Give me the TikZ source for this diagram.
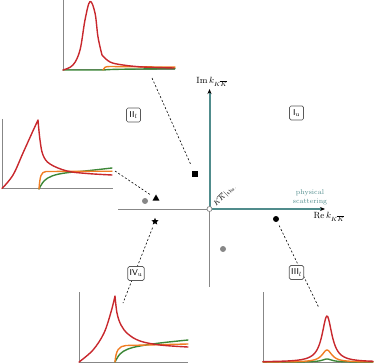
\documentclass[tikz,border=0pt]{standalone}
\usetikzlibrary{arrows.meta,shapes.geometric}
\definecolor{cred}{RGB}{200,40,45}
\definecolor{corange}{RGB}{240,125,35}
\definecolor{cgreen}{RGB}{60,135,55}
\definecolor{tealc}{RGB}{80,140,140}
\definecolor{axgrey}{RGB}{135,135,135}
\begin{document}
\begin{tikzpicture}[x=1pt,y=-1pt,
  pax/.style={draw=axgrey,line width=1pt},
  crv/.style={line width=1.4pt,line join=round,line cap=round},
  conn/.style={draw=black,line width=0.6pt,dash pattern=on 2pt off 2pt},
  regbox/.style={draw=black!65,fill=white,rounded corners=1.5pt,line width=0.7pt,
    font=\fontsize{8.5}{9}\sffamily,inner sep=1.8pt,minimum height=14pt,minimum width=14pt},
  sym/.style={fill=black,inner sep=0pt},
  tip/.style={-{Stealth[length=5pt,width=4pt,color=black]}}
]
\useasboundingbox (0,0) rectangle (374,363);

% ---------- main axes ----------
\coordinate (O) at (209.5,209);
\coordinate (xl) at (118,209);
\coordinate (yb) at (209.5,287);
\coordinate (xr) at (325,209);
\coordinate (yt) at (209.5,89);
\draw[axgrey,line width=1pt] (xl) -- (O) -- (yb);
\draw[tealc,line width=2pt,tip] (O) -- (xr);
\draw[tealc,line width=2pt,tip] (O) -- (yt);
\node[circle,draw=axgrey,fill=white,line width=0.7pt,inner sep=0pt,minimum size=5pt] (origin) at (O) {};

\node (imlab) at (212,82) {\fontsize{9}{10}\selectfont $\mathrm{Im}\,k_{K\overline{K}}$};
\node (relab) at (329,217) {\fontsize{9}{10}\selectfont $\mathrm{Re}\,k_{K\overline{K}}$};
\node[text=tealc,align=center,font=\fontsize{7}{9}\selectfont,inner sep=0pt] (phys) at (310,197) {physical\\scattering};
\node[rotate=45,font=\fontsize{7.5}{8}\selectfont,inner sep=0pt] (thr) at (224.5,195) {$K\overline{K}|_{\mathrm{thr.}}$};

% ---------- poles ----------
\node[sym,rectangle,minimum size=5.5pt] (sq) at (195,174) {};
\node[circle,fill=axgrey,inner sep=0pt,minimum size=6pt] (g1) at (145,201) {};
\node[sym,regular polygon,regular polygon sides=3,minimum size=8pt] (tri) at (156,198.5) {};
\node[sym,star,star points=5,star point ratio=2.2,minimum size=7.5pt] (st) at (155,221.5) {};
\node[circle,fill=axgrey,inner sep=0pt,minimum size=6pt] (g2) at (223,249) {};
\node[circle,fill=black,inner sep=0pt,minimum size=6pt] (dot) at (276,219) {};

% ---------- connector ends ----------
\coordinate (p1) at (152,78);
\coordinate (p2) at (115,171);
\coordinate (p3) at (123,303);
\coordinate (p4) at (319,308);
\draw[conn,shorten >=6pt] (p1) -- (sq);
\draw[conn,shorten >=4pt] (p2) -- (tri);
\draw[conn,shorten <=4pt] (st) -- (p3);
\draw[conn,shorten <=4pt] (dot) -- (p4);

% ---------- region labels ----------
\node[regbox] (Iu) at (296.5,113) {I$_{\mathrm{u}}$};
\node[regbox] (IIl) at (133.5,115) {II$_{l}$};
\node[regbox] (IIIl) at (296.5,272.5) {III$_{l}$};
\node[regbox] (IVu) at (136,273.5) {IV$_{\mathrm{u}}$};

% ---------- plot 1 (top) ----------
\draw[pax] (63,0) -- (63,70) -- (175,70);
\draw[cgreen,crv] (63,70) -- (103,70) .. controls (112,69.3) .. (175,68.6);
\draw[corange,crv] (103,70) .. controls (104,67.5) and (105,66.5) .. (110,66.5) -- (175,67.2);
\draw[cred,crv] plot[smooth,tension=0.6] coordinates {(63,70) (73,65) (80,50) (85,20) (90,1.5) (95,13) (98,37) (102,55)}
  -- plot[smooth,tension=0.6] coordinates {(102,55) (110,62) (123,65) (143,67) (174,68)};

% ---------- plot 2 (II_l) ----------
\draw[pax] (2,119) -- (2,189) -- (113,189);
\draw[cgreen,crv] plot[smooth,tension=0.6] coordinates {(39,189) (44,181) (52,176) (65,173) (85,171) (112,168)};
\draw[corange,crv] (39,189) .. controls (40,176) and (41,172) .. (46,171.5) -- (112,171.2);
\draw[cred,crv] plot[smooth,tension=0.6] coordinates {(2,188.5) (13,175) (23,153) (32,133) (38,120)}
  -- plot[smooth,tension=0.6] coordinates {(38,120) (40,140) (43,155) (50,164) (67,171) (87,173.5) (112,175)};

% ---------- plot 3 (IV_u) ----------
\draw[pax] (79,292) -- (79,362) -- (188,362);
\draw[cgreen,crv] plot[smooth,tension=0.6] coordinates {(115,362) (120,354) (128,349) (140,346) (160,343) (188,340)};
\draw[corange,crv] (115,362) .. controls (116,350) and (119,346) .. (126,345.5) -- (188,344);
\draw[cred,crv] plot[smooth,tension=0.6] coordinates {(79,362) (93,350) (104,333) (111,312) (115,296)}
  -- plot[smooth,tension=0.6] coordinates {(115,296) (117,313) (121,325) (128,334) (140,341) (160,345) (188,347)};

% ---------- plot 4 (III_l) ----------
\draw[pax] (263,292) -- (263,362) -- (373,362);
\draw[cgreen,crv] plot[domain=263:373,samples=120] (\x,{362-3*36/((\x-327)^2+36)});
\draw[corange,crv] plot[domain=263:373,samples=120] (\x,{362-12*36/((\x-327)^2+36)});
\draw[cred,crv] plot[domain=263:373,samples=120] (\x,{362-46*36/((\x-327)^2+36)});
\end{tikzpicture}
\end{document}
